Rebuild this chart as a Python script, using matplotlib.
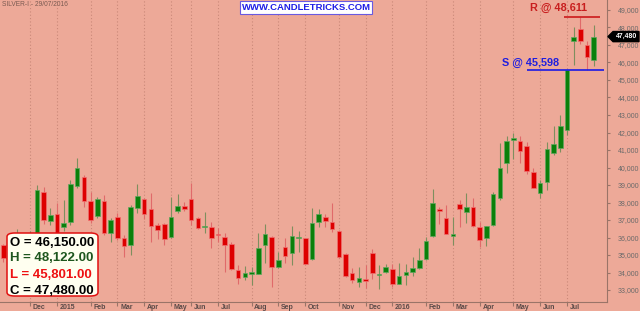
import matplotlib
matplotlib.use("Agg")
import matplotlib.pyplot as plt
import matplotlib.transforms as mtransforms
from matplotlib.patches import FancyBboxPatch, Polygon

plt.rcParams["font.family"] = ["Liberation Sans", "DejaVu Sans"]

# weekly OHLC, SILVER-I
opens = [35570, 34700, 35200, 35800, 35600, 36000, 38619, 36943, 37343, 36619,
         36886, 38943, 39438, 38086, 37229, 38086, 36257, 37171, 35971, 35571,
         37686, 38200, 37629, 36714, 36771, 36029, 37514, 37800, 38200, 37114,
         36600, 36619, 36200, 36010, 35611, 34143, 33762, 33933, 33933, 35572,
         36046, 34298, 35440, 35132, 35990, 35955, 34789, 36869, 37190, 36903,
         36389, 35058, 33955, 33440, 33629, 35132, 33880, 34029, 34200, 33360,
         33857, 34029, 34258, 34755, 36103, 37612, 37114, 36069, 37897, 37474,
         37743, 36600, 35989, 36714, 38240, 40274, 41589, 41532, 41229, 39726,
         38526, 39189, 40846, 41132, 42143, 47245, 47897, 47000, 46150]
highs = [35650, 35600, 36490, 36200, 36400, 39000, 38900, 37667, 37952, 38150,
         39286, 40524, 39552, 38619, 38333, 38429, 37114, 37400, 36143, 37857,
         39057, 38257, 38543, 36829, 36829, 38314, 38486, 38029, 39114, 37171,
         37457, 36905, 36543, 36240, 35724, 34429, 34372, 34333, 36240, 36772,
         36086, 35189, 35955, 36657, 36372, 35972, 37669, 37612, 37343, 37955,
         36429, 35132, 34240, 34298, 34429, 35326, 34429, 34486, 34486, 34526,
         34486, 34869, 35372, 36046, 38772, 37726, 37857, 37189, 38143, 38560,
         38240, 36903, 36657, 38617, 41383, 41817, 41954, 41800, 41474, 39955,
         39286, 41474, 42371, 43000, 45628, 48046, 48611, 47246, 48122]
lows = [34600, 34400, 35000, 35500, 35300, 35700, 36800, 36700, 35600, 36400,
        36700, 38810, 37762, 36810, 37100, 36143, 35743, 35857, 34886, 35000,
        37400, 37057, 35743, 35914, 35571, 35971, 37400, 37514, 36714, 36486,
        36257, 35419, 35762, 34048, 34143, 33326, 33572, 33286, 33915, 34561,
        33189, 34257, 34526, 34429, 35189, 34469, 34715, 36618, 36618, 36332,
        34857, 33743, 33418, 33189, 33097, 33612, 33040, 33972, 33155, 33343,
        33286, 33800, 34229, 34715, 36012, 36755, 36183, 35572, 36618, 36846,
        36618, 35440, 35532, 36657, 38143, 39703, 40486, 40240, 39629, 38812,
        38240, 38714, 40714, 40903, 41857, 45857, 47057, 45598, 45801]
closes = [34830, 35300, 35800, 36000, 36150, 38714, 37000, 37286, 35900, 36810,
          39057, 39952, 38105, 37000, 38181, 36257, 37000, 35971, 35514, 37743,
          38371, 37343, 36657, 36429, 35914, 37171, 37800, 37629, 37000, 36543,
          36660, 35957, 36124, 35590, 34200, 33705, 33990, 34029, 35400, 36200,
          34332, 34715, 34943, 36069, 36010, 34503, 36812, 37343, 36943, 36469,
          34886, 33800, 33572, 33686, 33532, 33989, 33930, 34332, 33326, 33800,
          34029, 34258, 34715, 35800, 37954, 37497, 36217, 36200, 37612, 37743,
          36657, 35857, 36657, 38486, 39971, 41532, 41703, 40943, 39800, 38846,
          39097, 41057, 41343, 42371, 45598, 47440, 47245, 46297, 47480]

month_labels = ["Dec", "2015", "Feb", "Mar", "Apr", "May", "Jun", "Jul", "Aug",
                "Sep", "Oct", "Nov", "Dec", "2016", "Feb", "Mar", "Apr", "May",
                "Jun", "Jul"]
month_idx = [4, 8, 13, 17, 21, 25, 28, 32, 37, 41, 45, 50, 54, 58, 63, 67, 71,
             76, 80, 84]

price_ticks = list(range(33000, 50000, 1000))
resistance = 48611
support = 45598
last_close = closes[-1]

BG = "#EDA998"
SPINE = "#9A7468"
GREEN = "#0B800B"
RED = "#DD0000"
GREEN_WICK = "#7E8F5E"
RED_WICK = "#E06A6A"

W, H = 640, 311
fig = plt.figure(figsize=(6.4, 3.11), dpi=100, facecolor=BG)
ax = fig.add_axes([0, 9 / H, 607 / W, 302 / H])
ax.set_facecolor(BG)

for i in range(len(opens)):
    o, h, l, c = opens[i], highs[i], lows[i], closes[i]
    up = c >= o
    ax.vlines(i, l, h, colors=GREEN_WICK if up else RED_WICK, lw=0.8, zorder=2)
    body = max(abs(c - o), 45)
    ax.bar(i, body, bottom=min(o, c), width=0.68,
           color=GREEN if up else RED,
           edgecolor="#5FA85F" if up else "#F07070", linewidth=0.5, zorder=3)

for k in month_idx:
    ax.axvline(k, color="#C98878", ls=(0, (1, 2)), lw=0.8, zorder=1)

ax.set_xlim(-0.49, 89.97)
ax.set_ylim(32315, 49571)

for s in ["top", "left"]:
    ax.spines[s].set_visible(False)
ax.spines["right"].set_color(SPINE)
ax.spines["bottom"].set_color(SPINE)

ax.yaxis.tick_right()
ax.set_yticks(price_ticks)
ax.set_yticklabels([f"{v:,}" for v in price_ticks])
ax.tick_params(axis="y", length=2, color=SPINE, labelsize=5,
               labelcolor="#6A6A6A", pad=6)
ax.set_xticks(month_idx)
ax.set_xticklabels([""] * len(month_idx))
ax.tick_params(axis="x", length=3, color=SPINE, direction="out")

btr = mtransforms.blended_transform_factory(ax.transData, ax.transAxes)
for k, lab in zip(month_idx, month_labels):
    ax.text(k + 0.4, -0.017, lab, transform=btr, ha="left", va="center",
            fontsize=5, fontweight="bold", color="#5A4A48", clip_on=False)

# resistance / support
ax.hlines(resistance, 83.6, 88.9, colors="#CC1A1A", lw=1.2, zorder=4)
ax.text(82.7, 49097, f"R @ {resistance:,}", color="#C81E1E",
        fontsize=7.8, fontweight="bold", ha="center", va="center")
ax.hlines(support, 78.0, 89.5, colors="#1A1AE6", lw=1.2, zorder=4)
ax.text(78.6, 45989, f"S @ {support:,}", color="#1E1EE0",
        fontsize=7.8, fontweight="bold", ha="center", va="center")

# last price tag on the axis
ytr = mtransforms.blended_transform_factory(ax.transAxes, ax.transData)
dy = 290
tag = Polygon([(1.0016, last_close), (1.010, last_close + dy),
               (1.0527, last_close + dy), (1.0527, last_close - dy),
               (1.010, last_close - dy)], closed=True, transform=ytr,
              facecolor="black", edgecolor="black", clip_on=False, zorder=6)
ax.add_patch(tag)
ax.text(1.032, last_close, f"{last_close:,}", transform=ytr, color="white",
        fontsize=5, fontweight="bold", ha="center", va="center",
        clip_on=False, zorder=7)

# title and watermark
fig.text(2 / W, 1 - 4.5 / H, "SILVER-I - 29/07/2016", fontsize=4.8,
         color="#7B5B52", ha="left", va="center")
fig.text(306 / W, 1 - 7.5 / H, "WWW.CANDLETRICKS.COM", fontsize=6.8,
         fontweight="bold", color="#1E1EE6", ha="center", va="center",
         bbox=dict(boxstyle="square,pad=0.2", facecolor="white",
                   edgecolor="#6A5AE0", linewidth=0.8))

# OHLC info box
box = FancyBboxPatch((7 / W, 1 - 296 / H), 91 / W, 63 / H,
                     boxstyle="round,pad=0,rounding_size=0.012",
                     transform=fig.transFigure, facecolor="#FFFFF0",
                     edgecolor="#E01010", linewidth=1.1, zorder=10)
fig.patches.append(box)
info = [("O", opens[-1], "black"), ("H", highs[-1], "#1E561E"),
        ("L", lows[-1], "#EE1111"), ("C", closes[-1], "black")]
ys = [242.7, 257.7, 275.0, 291.0]
for (lab, val, col), yy in zip(info, ys):
    fig.text(9.5 / W, 1 - yy / H, f"{lab} = {val:,.2f}", fontsize=9.5,
             fontweight="bold", color=col, ha="left", va="center", zorder=11)

fig.savefig("out.png", dpi=100, facecolor=BG)
